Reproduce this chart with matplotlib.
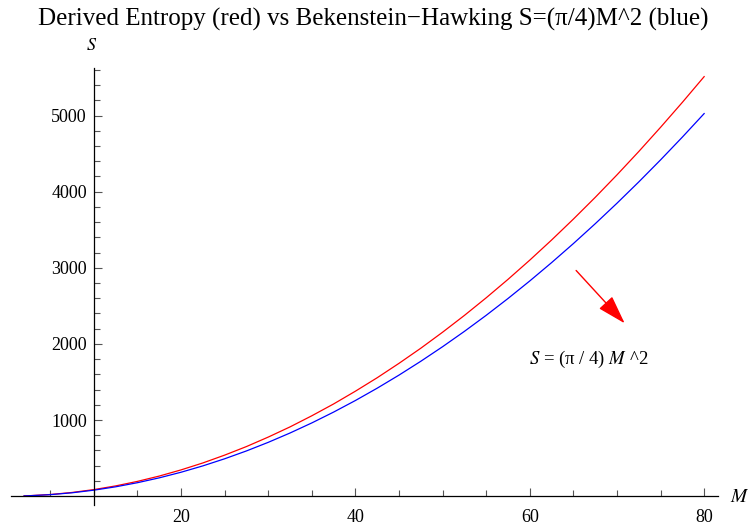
import numpy as np
import matplotlib.pyplot as plt
from matplotlib.ticker import MultipleLocator

plt.rcParams['font.family'] = ['Liberation Serif', 'DejaVu Serif']
plt.rcParams['mathtext.fontset'] = 'stix'

# values
M = [2, 2.5, 5, 7.5, 10, 12.5, 15, 17.5, 20, 22.5, 25, 27.5, 30, 32.5, 35,
     37.5, 40, 42.5, 45, 47.5, 50, 52.5, 55, 57.5, 60, 62.5, 65, 67.5, 70,
     72.5, 75, 77.5, 80]
S_derived = [3.4, 5.4, 21.5, 48.5, 86, 134.6, 194, 263.8, 345, 436.1, 539,
             651.5, 776, 909.9, 1056, 1211.4, 1379, 1555.9, 1745, 1943.6,
             2154, 2374.4, 2606, 2848.1, 3101, 3365, 3640, 3924.9, 4221,
             4527.8, 4846, 5173.9, 5512]
S_bh = [3.1, 4.9, 19.6, 44.2, 78.5, 122.7, 176.7, 240.5, 314.2, 397.6, 490.9,
        594.0, 706.9, 829.6, 962.1, 1104.5, 1256.6, 1418.6, 1590.4, 1772.1,
        1963.5, 2164.8, 2375.8, 2596.7, 2827.4, 3068.0, 3318.3, 3578.5,
        3848.5, 4128.2, 4417.9, 4717.3, 5026.5]

fig = plt.figure(figsize=(7.5, 5.25), dpi=100)
ax = fig.add_axes([0.014, 0.039, 0.943, 0.831])

ax.plot(M, S_derived, color=(1, 0, 0), lw=0.9)
ax.plot(M, S_bh, color=(0, 0, 1), lw=0.9)

ax.set_xlim(0.44, 81.56)
ax.set_ylim(-110, 5622)

#Mathematica style axes crossing at (10, 0)
ax.spines['left'].set_position(('data', 10))
ax.spines['bottom'].set_position(('data', 0))
ax.spines['top'].set_visible(False)
ax.spines['right'].set_visible(False)
for s in ['left', 'bottom']:
    ax.spines[s].set_linewidth(0.9)

ax.xaxis.set_major_locator(MultipleLocator(20))
ax.xaxis.set_minor_locator(MultipleLocator(5))
ax.yaxis.set_major_locator(MultipleLocator(1000))
ax.yaxis.set_minor_locator(MultipleLocator(200))
ax.set_yticks([1000, 2000, 3000, 4000, 5000])
ax.tick_params(which='both', direction='in', color='#555555', width=0.8,
               labelsize=13)
ax.tick_params(which='major', length=6)
ax.tick_params(which='minor', length=4)
ax.tick_params(axis='x', pad=9)
ax.tick_params(axis='y', pad=5)

ax.annotate('', xy=(71.1, 2244), xytext=(65.1, 2992),
            arrowprops=dict(arrowstyle='-|>,head_length=0.9,head_width=0.28',
                            color='red', lw=1, mutation_scale=20))
ax.text(66.8, 1790, '$S$ = (π / 4) $M$ ^2', fontsize=13.5,
        ha='center', va='center')

fig.text(0.497, 1 - 19/525,
         'Derived Entropy (red) vs Bekenstein\u2212Hawking S=(\u03c0/4)M^2 (blue)',
         fontsize=18, ha='center', va='center')
fig.text(92/750, 1 - 45/525, '$S$', fontsize=13, ha='center', va='center')
fig.text(740/750, 1 - 498/525, '$M$', fontsize=14, ha='center', va='center')

fig.savefig('out.png', dpi=100)
